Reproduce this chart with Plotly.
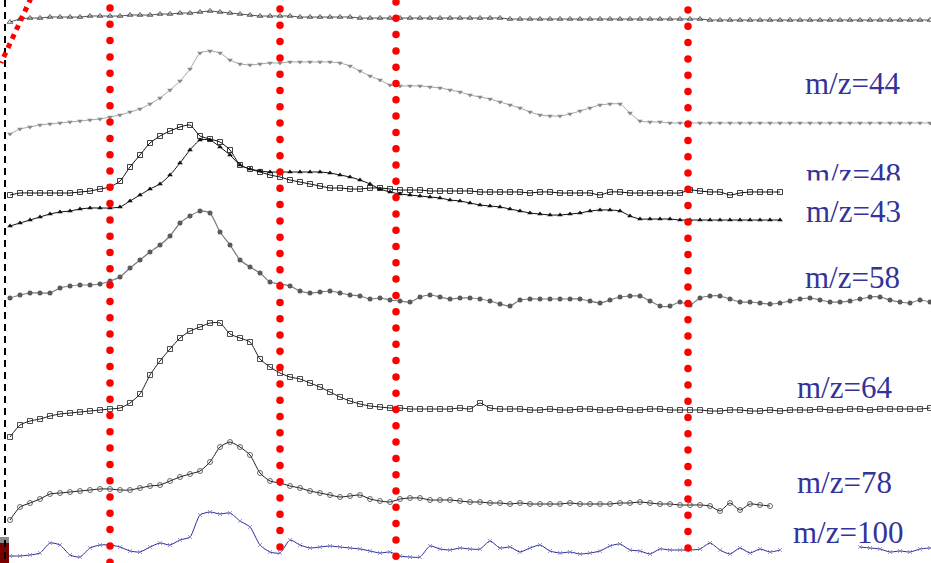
import plotly.graph_objects as go

# retention-time grid shared by all ion traces
t = list(range(10, 940, 10))

# ion traces (signal position, screen-down units)
trace_top = [22, 19, 18, 18, 17, 17, 17, 17, 16, 16,
             16, 16, 15, 15, 15, 14, 14, 13, 13, 12,
             11, 12, 13, 14, 15, 16, 16, 16, 16, 17,
             17, 17, 17, 17, 17, 18, 18, 18, 18, 18,
             18, 18, 18, 18, 18, 18, 18, 18, 18, 18,
             19, 19, 19, 19, 19, 19, 19, 19, 19, 19,
             19, 19, 19, 19, 19, 19, 19, 19, 19, 19,
             20, 20, 20, 20, 20, 20, 20, 20, 20, 20,
             20, 20, 20, 20, 20, 20, 20, 20, 20, 20,
             20, 20, 20]

mz44 = [134, 129, 127, 125, 124, 123, 122, 121, 120, 119,
        117, 115, 112, 109, 104, 98, 90, 81, 69, 53,
        51, 53, 60, 64, 65, 64, 63, 63, 62, 62,
        62, 62, 62, 63, 66, 71, 76, 80, 85, 86,
        86, 86, 87, 88, 90, 92, 95, 97, 99, 102,
        105, 108, 112, 115, 116, 116, 114, 111, 108, 105,
        104, 104, 113, 121, 122, 122, 123, 123, 123, 123,
        123, 123, 123, 123, 123, 123, 123, 123, 123, 123,
        123, 123, 123, 123, 123, 123, 123, 123, 123, 123,
        123, 123, 123]

mz48 = [195, 193, 193, 193, 193, 193, 193, 192, 191, 189,
        187, 181, 167, 155, 143, 136, 131, 127, 125, 136,
        139, 142, 150, 165, 169, 172, 175, 177, 180, 182,
        184, 186, 188, 188, 189, 189, 188, 188, 189, 190,
        190, 190, 191, 191, 191, 191, 191, 192, 192, 192,
        192, 192, 193, 192, 192, 193, 193, 193, 193, 195,
        192, 192, 193, 193, 193, 193, 193, 193, 190, 191,
        192, 192, 195, 193, 192, 192, 192, 192]

mz43 = [226, 223, 220, 217, 214, 212, 211, 209, 208, 208,
        208, 207, 201, 195, 189, 184, 175, 163, 150, 140,
        140, 147, 155, 165, 169, 171, 172, 172, 172, 172,
        172, 172, 173, 175, 177, 180, 184, 189, 192, 194,
        195, 196, 197, 198, 200, 201, 203, 205, 206, 207,
        209, 211, 213, 214, 215, 215, 214, 213, 211, 210,
        210, 211, 216, 219, 219, 219, 219, 220, 220, 220,
        220, 220, 220, 220, 220, 220, 220, 220]

mz58 = [298, 295, 293, 293, 293, 288, 286, 285, 285, 284,
        281, 277, 268, 260, 252, 245, 236, 223, 216, 211,
        213, 232, 245, 260, 267, 273, 282, 284, 286, 291,
        293, 292, 291, 293, 295, 296, 299, 298, 300, 301,
        302, 297, 295, 297, 299, 298, 298, 299, 301, 304,
        306, 300, 299, 299, 299, 299, 299, 299, 301, 303,
        300, 297, 296, 296, 301, 306, 306, 302, 305, 298,
        296, 296, 299, 302, 302, 303, 304, 303, 301, 299,
        298, 300, 302, 302, 301, 299, 297, 297, 300, 302,
        303, 300, 302]

mz64 = [437, 425, 421, 419, 416, 414, 413, 412, 411, 410,
        409, 408, 403, 394, 375, 361, 349, 338, 331, 327,
        323, 323, 334, 338, 342, 359, 367, 373, 377, 379,
        383, 387, 392, 397, 401, 404, 406, 407, 408, 408,
        409, 409, 409, 409, 409, 408, 409, 403, 408, 409,
        409, 409, 410, 410, 409, 410, 410, 409, 409, 410,
        410, 409, 410, 410, 409, 409, 410, 410, 410, 410,
        411, 411, 410, 410, 411, 411, 410, 411, 410, 410,
        410, 409, 410, 410, 409, 409, 410, 409, 409, 409,
        409, 409, 408]

mz78 = [520, 507, 503, 499, 494, 493, 492, 491, 490, 489,
        489, 490, 490, 488, 486, 485, 481, 477, 474, 471,
        462, 447, 442, 447, 455, 473, 481, 483, 486, 488,
        491, 493, 495, 497, 496, 495, 499, 501, 502, 499,
        498, 498, 500, 500, 500, 501, 502, 502, 503, 503,
        504, 503, 504, 504, 504, 504, 503, 504, 504, 504,
        504, 503, 503, 502, 503, 504, 504, 505, 505, 505,
        506, 511, 503, 510, 504, 505, 506]

mz100 = [556, 556, 555, 553, 543, 545, 555, 557, 548, 545,
         545, 547, 551, 552, 547, 543, 545, 540, 537, 515,
         512, 514, 513, 521, 527, 545, 552, 553, 540, 545,
         548, 547, 546, 547, 548, 549, 551, 553, 552, 556,
         557, 557, 546, 549, 550, 548, 549, 549, 541, 548,
         547, 552, 548, 545, 551, 553, 552, 554, 553, 551,
         546, 544, 550, 551, 554, 549, 550, 550, 550, 549,
         543, 550, 554, 548, 553, 549, 552, 550, None, None,
         None, None, None, None, None, 547, 548, 549, 552, 551,
         552, 549, 548]

# event markers (vertical red dotted lines)
event_times = [110, 280, 396, 688]

labels = ["m/z=44", "m/z=48", "m/z=43", "m/z=58", "m/z=64", "m/z=78", "m/z=100"]

fig = go.Figure()

styles = [
    (trace_top, dict(color="#555555", width=1), dict(symbol="triangle-up-open", size=5, color="#333333", line=dict(width=0.8))),
    (mz44, dict(color="#a8a8a8", width=1), dict(symbol="triangle-down", size=5, color="#8a8a8a")),
    (mz48, dict(color="#111111", width=1), dict(symbol="square-open", size=5, color="#111111", line=dict(width=0.8))),
    (mz43, dict(color="#111111", width=1), dict(symbol="triangle-up", size=5, color="#111111")),
    (mz58, dict(color="#7a7a7a", width=1.2), dict(symbol="circle", size=5, color="#5a5a5a")),
    (mz64, dict(color="#222222", width=1), dict(symbol="square-open", size=5, color="#222222", line=dict(width=0.8))),
    (mz78, dict(color="#222222", width=1), dict(symbol="circle-open", size=5, color="#444444", line=dict(width=0.8))),
    (mz100, dict(color="#2e2e9a", width=1), dict(symbol="x-thin-open", size=4, color="#8080cc", line=dict(width=0.8))),
]

for ys, line, marker in styles:
    fig.add_trace(go.Scatter(
        x=t[:len(ys)], y=ys, mode="lines+markers",
        line=dict(shape="spline", smoothing=0.6, **line),
        marker=marker, connectgaps=False, hoverinfo="skip",
    ))

# red dotted event lines drawn as round dots
dot_start = [8, 9, 2, 10]
for et, y0 in zip(event_times, dot_start):
    ys = []
    y = y0
    while y < 563:
        ys.append(y)
        y += 16.3
    fig.add_trace(go.Scatter(
        x=[et] * len(ys), y=ys, mode="markers",
        marker=dict(symbol="circle", size=7.5, color="#ff0000"),
        hoverinfo="skip",
    ))

shapes = [
    dict(type="rect", xref="x", yref="y", x0=0, x1=9, y0=537, y1=543,
         fillcolor="#8c8c8c", line=dict(width=0)),
    dict(type="rect", xref="x", yref="y", x0=0, x1=9, y0=543, y1=563,
         fillcolor="#7a0000", line=dict(width=0)),
    dict(type="line", xref="x", yref="y", x0=5, x1=5, y0=0, y1=563,
         line=dict(color="#000000", width=2, dash="7px,5px")),
    dict(type="line", xref="x", yref="y", x0=31, x1=1, y0=-2, y1=63,
         line=dict(color="#ff0000", width=5, dash="dot")),
]

label_pos = [(852, 83), (853, 174), (853, 211), (852, 277), (844, 387), (844, 482), (848, 532)]
annotations = []
for text, (lx, ly) in zip(labels, label_pos):
    ann = dict(x=lx, y=ly, xref="x", yref="y", text=text, showarrow=False,
               xanchor="center", yanchor="middle",
               font=dict(family="Liberation Serif, Times New Roman, serif", size=31, color="#333399"))
    if text == "m/z=43":
        ann.update(bgcolor="#ffffff", borderpad=13)
    annotations.append(ann)

fig.update_layout(
    width=931, height=563,
    margin=dict(l=0, r=0, t=0, b=0),
    paper_bgcolor="#ffffff", plot_bgcolor="#ffffff",
    showlegend=False,
    xaxis=dict(range=[0, 931], visible=False, fixedrange=True),
    yaxis=dict(range=[563, 0], visible=False, fixedrange=True),
    shapes=shapes,
    annotations=annotations,
)

fig.write_html("out.html")
